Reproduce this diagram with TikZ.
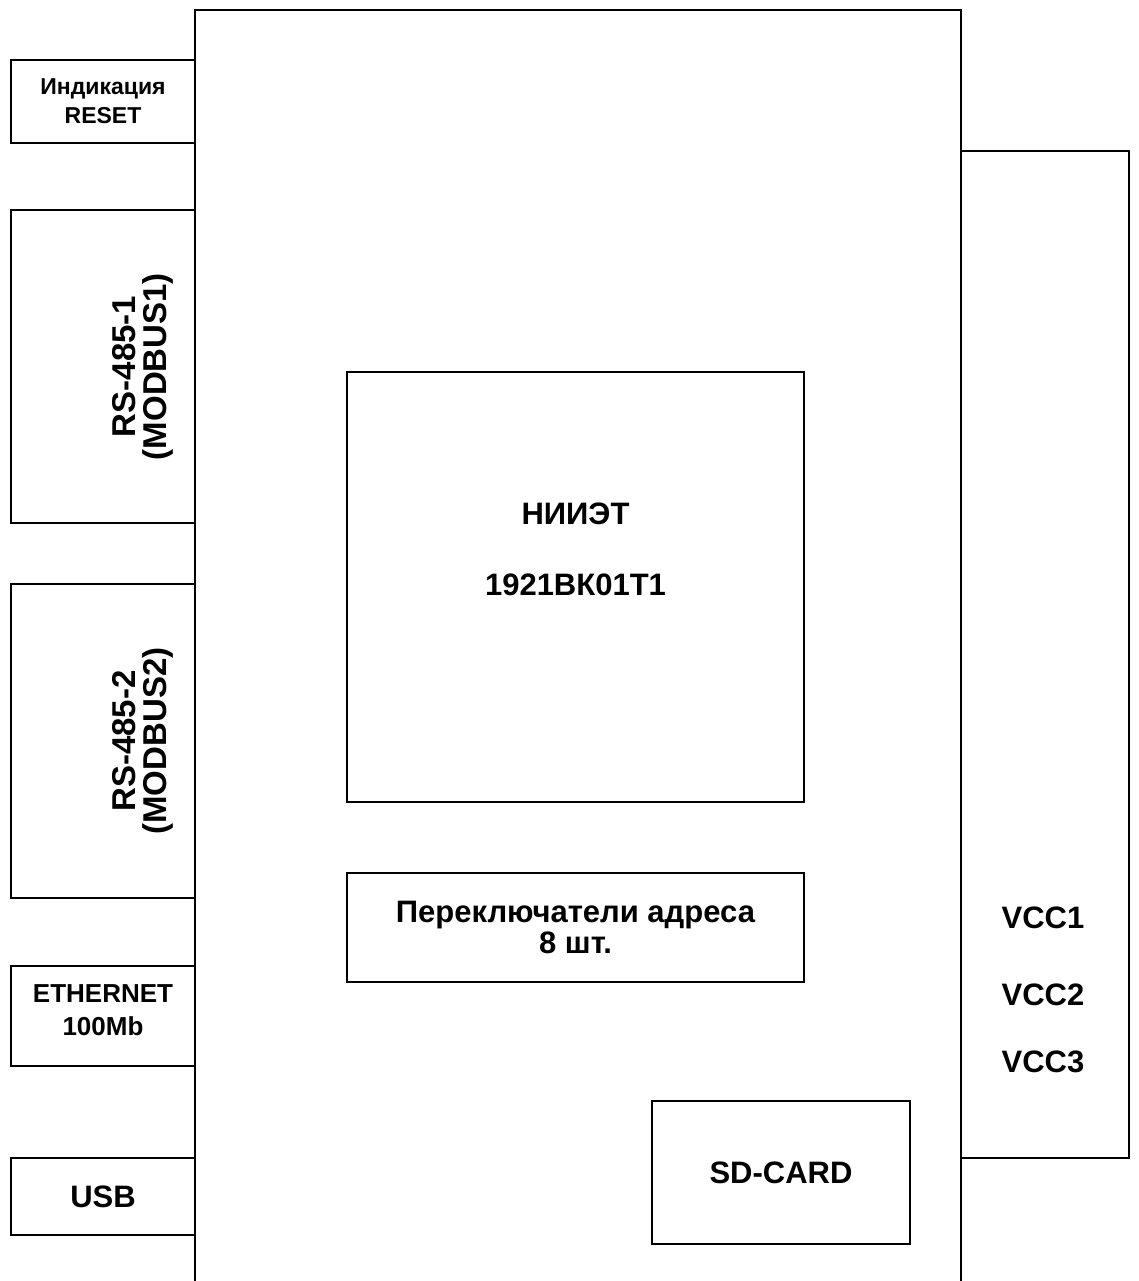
\documentclass[tikz,border=0pt]{standalone}
\usepackage{fontspec}
\setmainfont{Liberation Sans}
\begin{document}
\begin{tikzpicture}[x=1pt,y=-1pt,
  box/.style={draw,line width=2pt,inner sep=0pt,align=center,font=\bfseries\fontsize{31}{31}\selectfont},
  lbl/.style={inner sep=0pt,align=center,font=\bfseries\fontsize{31}{31}\selectfont},
  small/.style={font=\bfseries\fontsize{23}{29}\selectfont},
  mid/.style={font=\bfseries\fontsize{26}{33}\selectfont},
  vert/.style={inner sep=0pt,align=center,rotate=90,font=\bfseries\fontsize{33}{31}\selectfont}]
\useasboundingbox (0,0) rectangle (1138,1281);
% board outline (open at bottom)
\coordinate (bl) at (195,1282);
\coordinate (tl) at (195,10);
\coordinate (tr) at (961,10);
\coordinate (br) at (961,1282);
\draw[line width=2pt] (bl) -- (tl) -- (tr) -- (br);
% left connectors
\node[box,small,minimum width=184,minimum height=83] (ind) at (103,101.5) {Индикация\\RESET};
\node[box,minimum width=184,minimum height=313] (rs1) at (103,366.5) {};
\node[vert] (rs1t) at (143,366.5) {RS-485-1\\(MODBUS1)};
\node[box,minimum width=184,minimum height=314] (rs2) at (103,741) {};
\node[vert] (rs2t) at (143,741) {RS-485-2\\(MODBUS2)};
\node[box,minimum width=184,minimum height=100] (eth) at (103,1016) {};
\node[lbl,mid] (etht) at (103,1010) {ETHERNET\\100Mb};
\node[box,minimum width=184,minimum height=77] (usb) at (103,1196.5) {USB};
% right power block
\node[box,minimum width=168,minimum height=1007] (pwr) at (1045,654.5) {};
\node[lbl] (v1) at (1043,918) {VCC1};
\node[lbl] (v2) at (1043,995) {VCC2};
\node[lbl] (v3) at (1043,1062) {VCC3};
% chip
\node[box,minimum width=457,minimum height=430] (chip) at (575.5,587) {};
\node[lbl] (chipa) at (575.5,513.5) {НИИЭТ};
\node[lbl] (chipb) at (575.5,585) {1921ВК01Т1};
% switches
\node[box,minimum width=457,minimum height=109] (sw) at (575.5,927.5) {Переключатели адреса\\8 шт.};
% SD card
\node[box,minimum width=258,minimum height=143] (sd) at (781,1172.5) {SD-CARD};
\end{tikzpicture}
\end{document}
